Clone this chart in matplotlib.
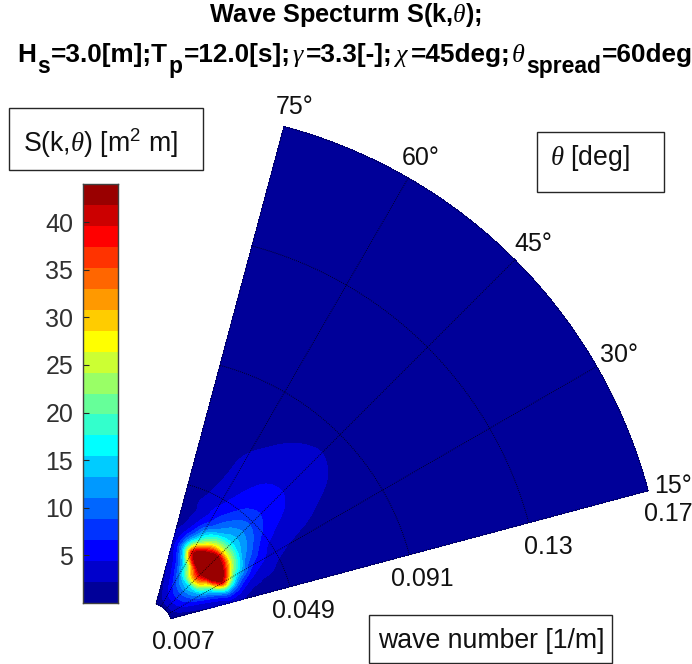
import numpy as np
import matplotlib
matplotlib.use('Agg')
import matplotlib.pyplot as plt
from matplotlib.colors import ListedColormap, BoundaryNorm
from matplotlib.patches import Rectangle

plt.rcParams['font.family'] = ['Liberation Sans', 'DejaVu Sans']
plt.rcParams['mathtext.fontset'] = 'custom'
plt.rcParams['mathtext.rm'] = 'Liberation Sans'
plt.rcParams['mathtext.bf'] = 'Liberation Sans:bold'
plt.rcParams['mathtext.it'] = 'Liberation Serif:italic'
plt.rcParams['mathtext.default'] = 'regular'

W, H = 692, 664

# Spectrum values
theta_deg = [15, 20, 25, 30, 35, 40, 45, 50, 55, 60, 65, 70, 75]
k_values = [0.007, 0.0085, 0.0105, 0.0125, 0.0145, 0.016, 0.017, 0.0185, 0.020, 0.0215,
            0.0237, 0.0255, 0.028, 0.030, 0.0325, 0.0345, 0.037, 0.039, 0.0415, 0.0445,
            0.048, 0.053, 0.058, 0.064, 0.072, 0.0817, 0.09, 0.105, 0.14, 0.175]
S_table = [
    [0.6, 0.8, 1.0, 1.2, 1.3, 1.4, 1.5, 1.4, 1.3, 1.2, 1.0, 0.8, 0.6],
    [0.8, 1.2, 1.6, 1.9, 2.1, 2.2, 2.2, 2.2, 2.1, 1.9, 1.6, 1.2, 0.8],
    [1.1, 1.8, 2.6, 3.4, 3.9, 4.2, 4.4, 4.2, 3.9, 3.4, 2.6, 1.8, 1.1],
    [1.3, 2.2, 3.4, 4.8, 5.8, 6.3, 6.6, 6.3, 5.8, 4.8, 3.4, 2.2, 1.3],
    [1.5, 2.6, 4.2, 6.2, 7.6, 8.4, 8.8, 8.4, 7.6, 6.2, 4.2, 2.6, 1.5],
    [1.6, 2.9, 4.8, 7.4, 9.4, 10.5, 11.0, 10.5, 9.4, 7.4, 4.8, 2.9, 1.6],
    [1.7, 3.0, 5.2, 8.6, 11.0, 12.6, 13.2, 12.6, 11.0, 8.6, 5.2, 3.0, 1.7],
    [1.8, 3.3, 6.0, 10.0, 13.0, 14.7, 15.4, 14.7, 13.0, 10.0, 6.0, 3.3, 1.8],
    [1.9, 3.6, 7.0, 12.0, 18.0, 23.0, 25.0, 23.0, 18.0, 12.0, 7.0, 3.6, 1.9],
    [2.1, 4.0, 8.0, 14.0, 22.0, 30.0, 33.0, 30.0, 22.0, 14.0, 8.0, 4.0, 2.1],
    [2.4, 4.5, 10.0, 17.0, 28.0, 38.0, 41.8, 38.0, 28.0, 17.0, 10.0, 4.5, 2.4],
    [2.6, 5.6, 13.0, 28.0, 42.0, 46.0, 50.0, 46.0, 42.0, 28.0, 13.0, 5.6, 2.6],
    [2.8, 7.0, 18.0, 42.0, 50.0, 56.0, 60.0, 56.0, 50.0, 42.0, 18.0, 7.0, 2.8],
    [2.6, 6.0, 15.0, 32.0, 44.0, 48.0, 52.0, 48.0, 44.0, 32.0, 15.0, 6.0, 2.6],
    [2.0, 4.5, 10.0, 18.0, 29.0, 38.0, 41.8, 38.0, 29.0, 18.0, 10.0, 4.5, 2.0],
    [1.5, 3.0, 7.0, 14.0, 22.0, 27.0, 28.0, 27.0, 22.0, 14.0, 7.0, 3.0, 1.5],
    [1.1, 2.1, 4.6, 10.5, 15.0, 19.0, 20.0, 19.0, 15.0, 10.5, 4.6, 2.1, 1.1],
    [1.0, 1.9, 4.0, 7.0, 11.0, 14.0, 15.4, 14.0, 11.0, 7.0, 4.0, 1.9, 1.0],
    [0.8, 1.5, 3.0, 5.5, 9.0, 12.0, 13.2, 12.0, 9.0, 5.5, 3.0, 1.5, 0.8],
    [0.8, 1.5, 2.7, 4.4, 6.6, 9.6, 11.0, 9.8, 7.0, 4.8, 3.1, 1.9, 1.0],
    [0.5, 1.0, 1.8, 3.0, 4.4, 7.4, 8.8, 7.8, 5.6, 3.9, 2.4, 1.4, 0.7],
    [0.3, 0.6, 1.2, 2.2, 3.5, 5.2, 6.6, 6.0, 4.6, 3.0, 2.0, 0.9, 0.4],
    [0.2, 0.4, 0.9, 1.8, 3.0, 4.5, 5.4, 5.0, 4.0, 2.8, 1.7, 0.8, 0.3],
    [0.1, 0.3, 0.7, 1.4, 2.6, 3.8, 4.4, 4.2, 3.6, 2.6, 1.5, 0.7, 0.2],
    [0.1, 0.2, 0.4, 0.8, 1.7, 3.0, 3.3, 3.1, 2.4, 1.6, 0.9, 0.4, 0.1],
    [0.1, 0.1, 0.3, 0.5, 1.0, 1.9, 2.3, 2.0, 1.5, 0.9, 0.5, 0.2, 0.1],
    [0.0, 0.1, 0.2, 0.4, 0.7, 1.3, 1.6, 1.4, 1.0, 0.6, 0.3, 0.1, 0.0],
    [0.0, 0.1, 0.1, 0.3, 0.5, 0.8, 1.0, 0.9, 0.6, 0.4, 0.2, 0.1, 0.0],
    [0.0, 0.0, 0.1, 0.1, 0.2, 0.3, 0.3, 0.3, 0.2, 0.1, 0.1, 0.0, 0.0],
    [0.0, 0.0, 0.0, 0.0, 0.1, 0.1, 0.1, 0.1, 0.1, 0.0, 0.0, 0.0, 0.0],
]

# MATLAB jet(20), bottom to top
band_colors = ['#000099', '#0000cc', '#0000ff', '#0033ff', '#0066ff', '#0099ff', '#00ccff',
               '#00ffff', '#33ffcc', '#66ff99', '#99ff66', '#ccff33', '#ffff00', '#ffcc00',
               '#ff9900', '#ff6600', '#ff3300', '#ff0000', '#cc0000', '#990000']
S_max = 44.0
cbar_ticks = [5, 10, 15, 20, 25, 30, 35, 40]
k_ticks = [0.007, 0.049, 0.091, 0.133, 0.175]
theta_ticks = [15, 30, 45, 60, 75]
k_tick_labels = ['0.007', '0.049', '0.091', '0.13', '0.17']

levels = np.linspace(0, S_max, len(band_colors) + 1)
cmap = ListedColormap(band_colors)
norm = BoundaryNorm(levels, cmap.N)


def fx(x):
    return x / W


def fy(y):
    return 1 - y / H


def smooth_axis(a, n, axis):
    # triangular smoothing, edges padded
    kernel = np.convolve(np.ones(n), np.ones(n))
    kernel = kernel / kernel.sum()
    pad = len(kernel) // 2

    def run(v):
        return np.convolve(np.pad(v, pad, mode='edge'), kernel, mode='valid')
    return np.apply_along_axis(run, axis, a)


fig = plt.figure(figsize=(W / 100, H / 100), dpi=100)

# sector axes, true scale in k
scale = 515 / 0.175
ax = fig.add_axes([0, 0, 1, 1])
ax.set_xlim(-150.7 / scale, (W - 150.7) / scale)
ax.set_ylim(-(H - 624) / scale, 624 / scale)
ax.axis('off')

# resample the table so the bands come out round
S_raw = np.array(S_table)
row_idx = np.arange(len(k_values))
row_fine = np.linspace(0, len(k_values) - 1, 8 * (len(k_values) - 1) + 1)
th_fine = np.arange(15, 75.01, 0.5)
S_fine = np.array([np.interp(th_fine, theta_deg, row) for row in S_raw])
S_fine = np.array([np.interp(row_fine, row_idx, S_fine[:, j]) for j in range(len(th_fine))]).T
S_fine = smooth_axis(smooth_axis(S_fine, 5, 0), 7, 1)
k_fine = np.interp(row_fine, row_idx, k_values)

th = np.radians(th_fine)
X = np.outer(k_fine, np.cos(th))
Y = np.outer(k_fine, np.sin(th))
S = np.clip(S_fine, 0, S_max - 0.01)
ax.contourf(X, Y, S, levels=levels, cmap=cmap, norm=norm)

# grid
arc = np.radians(np.linspace(15, 75, 200))
for k in k_ticks:
    ax.plot(k * np.cos(arc), k * np.sin(arc), color='k', lw=0.6, ls=(0, (1, 1.5)))
for t in theta_ticks:
    ax.plot([k_ticks[0] * np.cos(np.radians(t)), k_ticks[-1] * np.cos(np.radians(t))],
            [k_ticks[0] * np.sin(np.radians(t)), k_ticks[-1] * np.sin(np.radians(t))],
            color='k', lw=0.6, ls=(0, (1, 1.5)))

# colorbar
cax = fig.add_axes([fx(83), fy(603), 35 / W, 419 / H])
cax.pcolormesh([0, 1], levels, np.arange(len(band_colors)).reshape(-1, 1), cmap=cmap)
cax.set_ylim(0, S_max)
cax.set_xticks([])
cax.set_yticks(cbar_ticks)
cax.tick_params(axis='y', direction='in', length=4, width=0.8, color='#262626',
                labelsize=18, labelcolor='#303030', pad=7)
for s in cax.spines.values():
    s.set_color('#404040')
    s.set_linewidth(1)

# title line 1
fig.text(fx(346), fy(15), r'Wave Specturm S(k,$\mathit{\theta}$);', ha='center', va='center',
         fontsize=18.3, fontweight='bold')

# title line 2 piece by piece, the subscripts sit low and large
title_parts = [('H', 0, 18.8), ('s', 11, 16.5), ('=3.0[m];T', 0, 18.8), ('p', 11, 16.5),
               ('=12.0[s];', 0, 18.8), (r'$\mathit{\gamma}$', 0, 18.8), ('=3.3[-];', 0, 18.8),
               (r'$\mathit{\chi}$', 0, 18.8), ('=45deg;', 0, 18.8), (r'$\mathit{\theta}$', 0, 18.8),
               ('spread', 11, 16.5), ('=60deg', 0, 18.8)]
renderer = fig.canvas.get_renderer()
cursor = 17
for part, drop, size in title_parts:
    txt = fig.text(fx(cursor), fy(62 + drop), part, va='baseline', fontsize=size, fontweight='bold')
    cursor += txt.get_window_extent(renderer).width + 1.0

# boxed labels
boxes = [(9, 108, 194, 62), (537, 132, 127, 60), (369, 615, 243, 48)]
for bx, by, bw, bh in boxes:
    fig.add_artist(Rectangle((fx(bx), fy(by + bh)), bw / W, bh / H, transform=fig.transFigure,
                             fill=False, ec='#262626', lw=1))
fig.text(fx(23), fy(143), r'S(k,$\mathit{\theta}$) [m$^2$ m]', va='center', fontsize=19.2, color='#111111')
fig.text(fx(550), fy(158), r'$\mathit{\theta}$ [deg]', va='center', fontsize=19.2, color='#111111')
fig.text(fx(378), fy(641), 'wave number [1/m]', va='center', fontsize=19.2, color='#111111')

# tick labels around the sector
k_label_pos = [(183, 642), (303, 611), (422, 579), (548, 547), (668, 514)]
for lab, (px, py) in zip(k_tick_labels, k_label_pos):
    fig.text(fx(px), fy(py), lab, ha='center', va='center', fontsize=18, color='#111111')
theta_label_pos = [(673, 486), (619, 355), (533, 244), (421, 158), (295, 107)]
for t, (px, py) in zip(theta_ticks, theta_label_pos):
    fig.text(fx(px), fy(py), f'{t}\u00b0', ha='center', va='center', fontsize=18, color='#111111')

fig.savefig('out.png', dpi=100)
